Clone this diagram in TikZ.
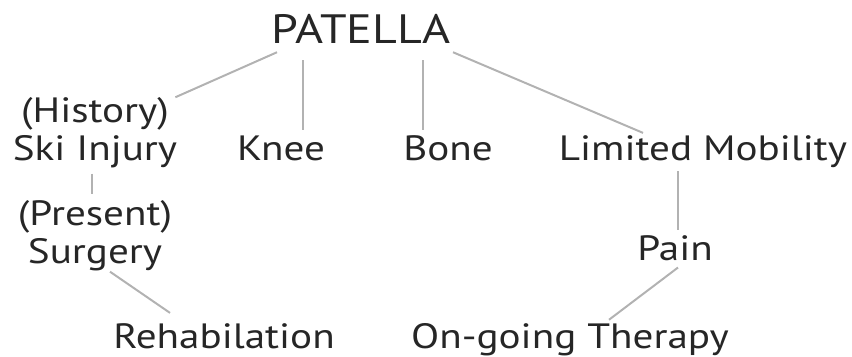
\documentclass[tikz,border=0pt]{standalone}
\usepackage{fontspec}
\setmainfont{PT Sans}[FakeStretch=1.17]
\usetikzlibrary{positioning}

\begin{document}
\begin{tikzpicture}[
  x=0.03cm, y=-0.03cm,
  every node/.style={font=\fontsize{30}{32}\selectfont, text=black!85, inner sep=0pt},
  word/.style={anchor=base, align=center},
  title/.style={anchor=base, font=\fontsize{35}{37}\selectfont},
  link/.style={draw=black!30, line width=1.7pt},
]
\useasboundingbox (0,0) rectangle (852,356);

% root
\node[title] (patella) at (361,43) {PATELLA};

% first row
\node[word] (history) at (95,160) {(History)\\Ski Injury};
\node[word] (knee)    at (281,160) {Knee};
\node[word] (bone)    at (448,160) {Bone};
\node[word] (limited) at (703,160) {Limited Mobility};

% lower rows
\node[word] (present) at (95,263) {(Present)\\Surgery};
\node[word] (pain)    at (675,260) {Pain};
\node[word] (rehab)   at (224,348) {Rehabilation};
\node[word] (ongoing) at (570,348) {On-going Therapy};

% links
\draw[link] ([shift={(-84,9)}]patella.south)  -- ([shift={(-2,0)}]history.north east);
\draw[link] ([shift={(-58,17)}]patella.south) -- ([shift={(22,-5)}]knee.north);
\draw[link] ([shift={(62,17)}]patella.south)  -- ([shift={(-25,-5)}]bone.north);
\draw[link] ([shift={(92,9)}]patella.south)   -- ([shift={(-60,-2)}]limited.north);
\draw[link] ([shift={(-3,6)}]history.south)   -- ([shift={(-3,-6)}]present.north);
\draw[link] ([shift={(15,1)}]present.south)   -- ([shift={(-54,-10)}]rehab.north);
\draw[link] ([shift={(-25,4)}]limited.south)  -- ([shift={(3,-5)}]pain.north);
\draw[link] ([shift={(3,7)}]pain.south)       -- ([shift={(39,-3)}]ongoing.north);
\end{tikzpicture}
\end{document}
